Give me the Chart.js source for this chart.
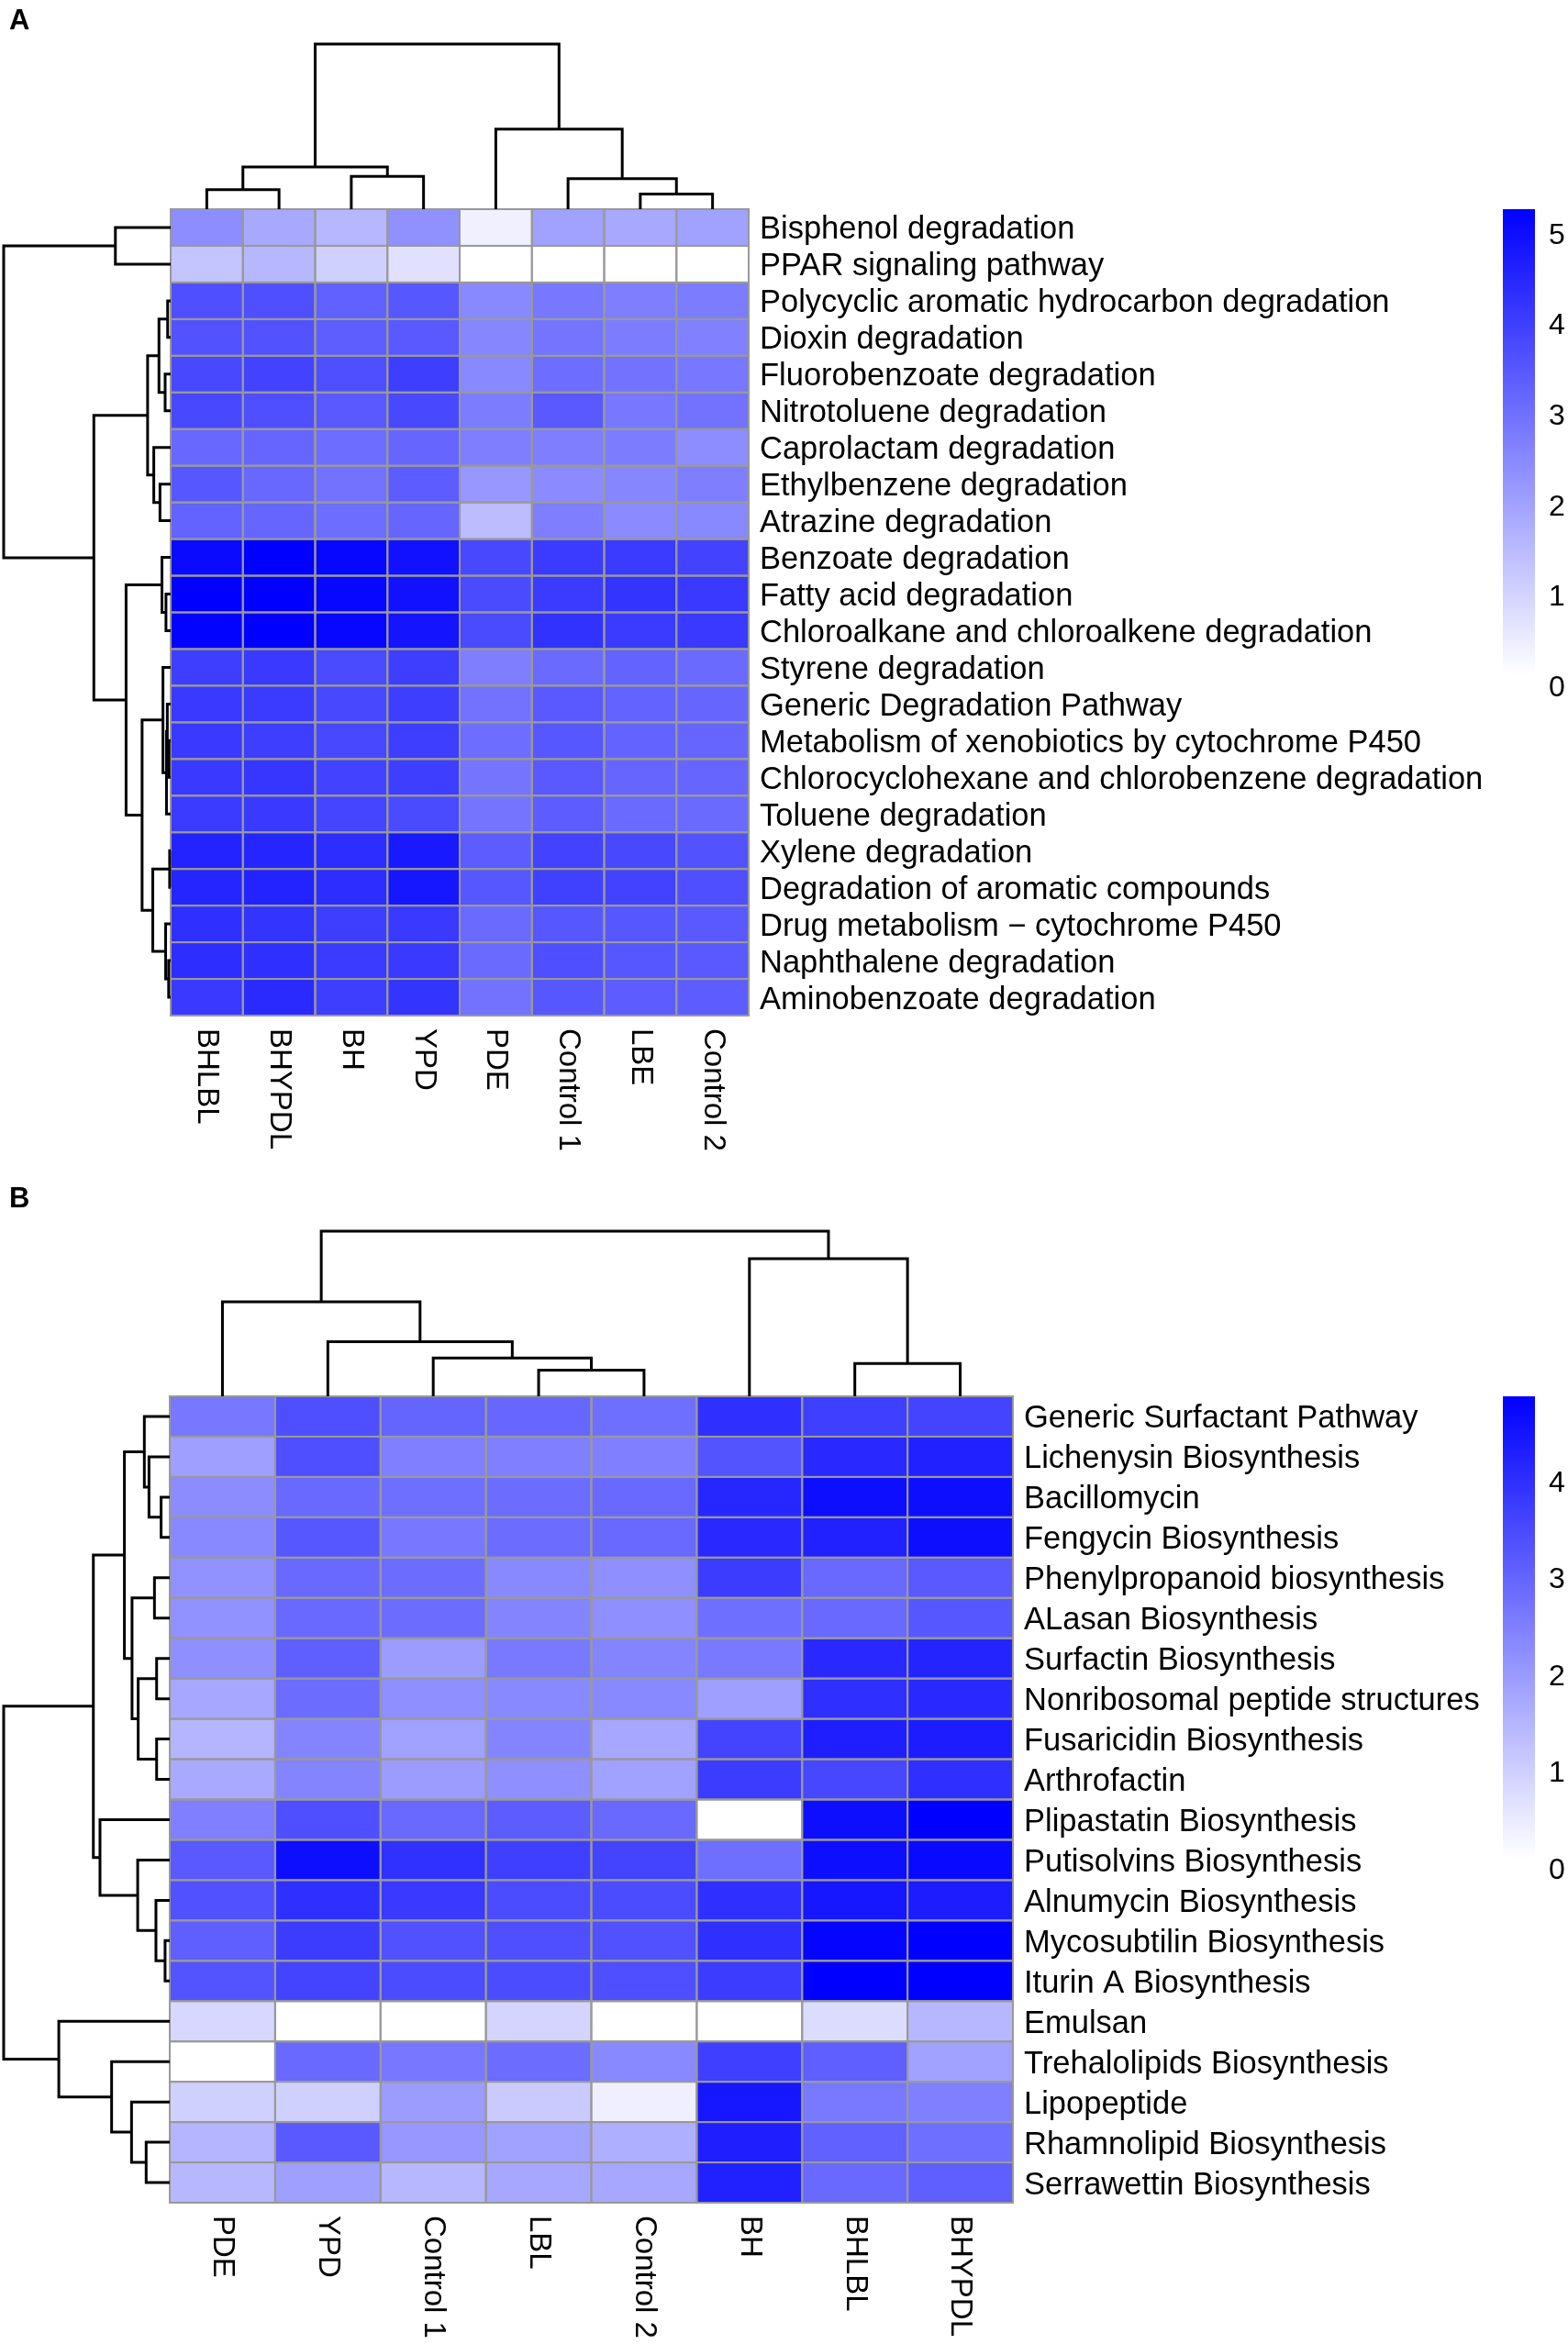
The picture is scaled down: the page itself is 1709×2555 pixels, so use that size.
<!DOCTYPE html>
<html><head><meta charset="utf-8">
<script src="https://cdn.jsdelivr.net/npm/chart.js"></script>
<style>body{margin:0;background:#fff}canvas{display:block}</style>
</head><body>
<canvas id="chartA" width="1709" height="1280"></canvas>
<canvas id="chartB" width="1709" height="1275"></canvas>
<script>
/* ================= DATA : panel A ================= */
const colsA = ['BHLBL','BHYPDL','BH','YPD','PDE','Control 1','LBE','Control 2'];
const rowsA = ['Bisphenol degradation','PPAR signaling pathway','Polycyclic aromatic hydrocarbon degradation','Dioxin degradation',
  'Fluorobenzoate degradation','Nitrotoluene degradation','Caprolactam degradation','Ethylbenzene degradation','Atrazine degradation',
  'Benzoate degradation','Fatty acid degradation','Chloroalkane and chloroalkene degradation','Styrene degradation',
  'Generic Degradation Pathway','Metabolism of xenobiotics by cytochrome P450','Chlorocyclohexane and chlorobenzene degradation',
  'Toluene degradation','Xylene degradation','Degradation of aromatic compounds','Drug metabolism \u2212 cytochrome P450',
  'Naphthalene degradation','Aminobenzoate degradation'];
const valsA = [
  [2.3,1.75,1.45,2.25,0.3,1.9,1.75,1.9],
  [1.2,1.45,0.95,0.6,0,0,0,0],
  [3.55,3.55,3.2,3.4,2.4,2.75,2.6,2.65],
  [3.5,3.5,3.25,3.35,2.45,2.8,2.65,2.55],
  [3.7,3.8,3.55,3.9,2.4,2.95,2.85,2.75],
  [3.7,3.55,3.35,3.7,2.65,3.35,2.75,2.85],
  [3.05,3.1,2.95,3.1,2.6,2.6,2.65,2.3],
  [3.4,3.05,2.85,3.3,2.1,2.35,2.45,2.6],
  [3.15,3.1,2.95,3.1,1.35,2.6,2.35,2.4],
  [4.95,5.15,5.0,4.8,3.7,3.95,3.95,3.8],
  [5.15,5.18,5.0,4.8,3.65,3.95,4.1,4.0],
  [5.1,5.18,5.0,4.75,3.65,4.15,3.95,4.0],
  [3.9,4.0,3.65,3.9,2.6,3.0,3.15,3.0],
  [4.0,3.95,3.7,3.9,2.85,3.35,3.15,3.1],
  [4.0,3.9,3.7,3.9,2.95,3.4,3.15,3.1],
  [4.0,4.05,3.8,3.9,2.8,3.35,3.1,3.1],
  [3.95,4.0,3.75,3.65,2.8,3.3,3.0,3.0],
  [4.45,4.4,4.25,4.65,3.3,3.8,3.7,3.5],
  [4.4,4.45,4.25,4.7,3.4,3.85,3.8,3.55],
  [4.2,4.1,3.9,4.0,3.0,3.4,3.4,3.35],
  [4.25,4.2,3.95,4.0,3.0,3.55,3.4,3.35],
  [4.0,4.3,3.9,4.1,2.85,3.4,3.3,3.3]
];
// merges: [left, right, height]; id < n is a leaf, id >= n is merge (id-n); height relative to root
const rowTreeA = [[0,1,0.331],[2,3,0.018],[4,5,0.033],[23,24,0.07],[7,8,0.064],[6,26,0.101],[25,27,0.138],
  [10,11,0.028],[9,29,0.052],[14,15,0.01],[13,31,0.02],[32,16,0.025],[12,33,0.046],[17,18,0.006],[20,21,0.012],
  [19,36,0.03],[35,37,0.107],[34,38,0.171],[30,39,0.267],[28,40,0.46],[22,41,1]];
const colTreeA = [[0,1,0.118],[2,3,0.199],[8,9,0.255],[6,7,0.092],[5,11,0.185],[4,12,0.485],[10,13,1]];
const legendTicksA = [0,1,2,3,4,5];
const maxA = 5.15;

/* ================= DATA : panel B ================= */
const colsB = ['PDE','YPD','Control 1','LBL','Control 2','BH','BHLBL','BHYPDL'];
const rowsB = ['Generic Surfactant Pathway','Lichenysin Biosynthesis','Bacillomycin','Fengycin Biosynthesis',
  'Phenylpropanoid biosynthesis','ALasan Biosynthesis','Surfactin Biosynthesis','Nonribosomal peptide structures',
  'Fusaricidin Biosynthesis','Arthrofactin','Plipastatin Biosynthesis','Putisolvins Biosynthesis','Alnumycin Biosynthesis',
  'Mycosubtilin Biosynthesis','Iturin A Biosynthesis','Emulsan','Trehalolipids Biosynthesis','Lipopeptide',
  'Rhamnolipid Biosynthesis','Serrawettin Biosynthesis'];
const valsB = [
  [2.55,3.3,2.9,2.85,2.7,3.9,3.6,3.5],
  [1.8,3.3,2.4,2.4,2.4,3.2,4.0,4.15],
  [2.15,2.8,2.7,2.75,2.8,4.05,4.5,4.5],
  [2.2,3.15,2.55,2.75,2.8,4.0,4.15,4.5],
  [2.05,2.8,2.75,2.2,2.1,3.65,2.8,3.1],
  [2.05,2.8,2.75,2.3,2.1,2.7,2.8,3.15],
  [2.1,3.0,1.85,2.5,2.3,2.5,4.0,4.1],
  [1.65,2.75,2.1,2.2,2.2,1.8,3.9,4.0],
  [1.4,2.3,1.75,2.3,1.65,3.5,4.2,4.25],
  [1.6,2.3,1.85,2.1,1.75,3.65,3.45,3.9],
  [2.4,3.3,2.8,3.05,2.8,0,4.5,4.77],
  [3.1,4.5,3.85,3.6,3.5,2.7,4.5,4.6],
  [3.25,3.9,3.7,3.35,3.35,3.9,4.35,4.25],
  [3.0,3.65,3.25,3.3,3.25,3.9,4.7,4.77],
  [3.2,3.5,3.35,3.35,3.3,3.65,4.77,4.77],
  [0.75,0,0,0.8,0,0,0.65,1.35],
  [0,2.8,2.55,2.75,2.2,3.6,3.0,1.75],
  [0.88,0.88,1.85,1.0,0.3,4.35,2.5,2.4],
  [1.4,3.1,1.95,1.75,1.5,4.2,2.95,2.7],
  [1.35,1.8,1.35,1.65,1.65,4.15,2.8,3.0]
];
const rowTreeB = [[2,3,0.052],[1,20,0.125],[0,21,0.153],[4,5,0.092],[6,7,0.079],[8,9,0.079],[24,25,0.19],
  [23,26,0.227],[22,27,0.273],[13,14,0.028],[12,29,0.083],[11,30,0.193],[10,31,0.42],[28,32,0.46],
  [18,19,0.142],[17,34,0.23],[16,35,0.35],[15,36,0.668],[33,37,1]];
const colTreeB = [[3,4,0.159],[2,8,0.232],[1,9,0.33],[0,10,0.572],[6,7,0.199],[5,12,0.834],[11,13,1]];
const legendTicksB = [0,1,2,3,4];
const maxB = 4.77;

/* ================= HELPERS ================= */
const FONT = '"Liberation Sans", Arial, sans-serif';
const colorFor = (v,max)=>{const k=Math.round(255*(1-Math.min(v/max,1)));return `rgb(${k},${k},255)`};

// dendrogram -> one polyline per merge, in (pos, height) pairs
function treeLines(merges, n){
  const pos=[], ht=[];
  for(let i=0;i<n;i++){pos[i]=i+0.5; ht[i]=0;}
  return merges.map(([a,b,h],i)=>{
    pos[n+i]=(pos[a]+pos[b])/2; ht[n+i]=h;
    return [[pos[a],ht[a]],[pos[a],h],[pos[b],h],[pos[b],ht[b]]];
  });
}

function heatmap(id, p){
  const nr=p.rows.length, nc=p.cols.length;
  const W=1709, H=document.getElementById(id).height;
  const cellW=(p.box.right-p.box.left)/nc, cellH=(p.box.bottom-p.box.top)/nr;
  const tx=p.treeW/cellW, ty=p.treeH/cellH;   // tree sizes in cell units

  const lineDs = pts=>({data:pts, showLine:true, borderColor:'#000', borderWidth:3, pointRadius:0, tension:0, clip:false});
  const datasets = [
    ...treeLines(p.rowTree,nr).map(l=>lineDs(l.map(([ps,h])=>({x:-h*tx, y:ps})))),
    ...treeLines(p.colTree,nc).map(l=>lineDs(l.map(([ps,h])=>({x:ps, y:-h*ty}))))
  ];

  const cells = {
    id:'cells',
    beforeDatasetsDraw(chart){
      const {ctx, scales:{x,y}}=chart;
      ctx.save();
      p.vals.forEach((row,r)=>row.forEach((v,c)=>{
        const x0=x.getPixelForValue(c), x1=x.getPixelForValue(c+1);
        const y0=y.getPixelForValue(r), y1=y.getPixelForValue(r+1);
        ctx.fillStyle=colorFor(v,p.max); ctx.fillRect(x0,y0,x1-x0,y1-y0);
      }));
      ctx.strokeStyle='#999999'; ctx.lineWidth=2;
      p.vals.forEach((row,r)=>row.forEach((v,c)=>{
        const x0=x.getPixelForValue(c), x1=x.getPixelForValue(c+1);
        const y0=y.getPixelForValue(r), y1=y.getPixelForValue(r+1);
        ctx.strokeRect(x0,y0,x1-x0,y1-y0);
      }));
      ctx.restore();
    },
    afterDraw(chart){
      const {ctx, scales:{x,y}}=chart;
      ctx.save();
      ctx.fillStyle='#000';
      // row labels
      ctx.font=`34.5px ${FONT}`; ctx.textAlign='left'; ctx.textBaseline='middle';
      const lx=x.getPixelForValue(nc)+12;
      p.rows.forEach((t,r)=>ctx.fillText(t, lx, y.getPixelForValue(r+0.5)+3));
      // column labels, rotated 90deg clockwise
      ctx.font=`33px ${FONT}`;
      const ly=y.getPixelForValue(nr)+14;
      p.cols.forEach((t,c)=>{
        ctx.save(); ctx.translate(x.getPixelForValue(c+0.5), ly); ctx.rotate(Math.PI/2);
        ctx.fillText(t,0,0); ctx.restore();
      });
      // colour key
      const bx=1638, bw=35, top=y.getPixelForValue(0), bh=p.barH, bot=top+bh;
      const g=ctx.createLinearGradient(0,bot,0,top);
      g.addColorStop(0,colorFor(0,p.max)); g.addColorStop(1,colorFor(p.max,p.max));
      ctx.fillStyle=g; ctx.fillRect(bx,top,bw,bh);
      ctx.fillStyle='#000'; ctx.font=`32px ${FONT}`;
      p.ticks.forEach(v=>ctx.fillText(String(v), bx+bw+15, bot-v/p.max*bh+14));
      // panel letter
      ctx.font=`bold 31px ${FONT}`; ctx.textBaseline='top';
      ctx.fillText(p.letter, 10, p.letterY);
      ctx.restore();
    }
  };

  return new Chart(document.getElementById(id), {
    type:'scatter',
    data:{datasets},
    options:{
      responsive:false, devicePixelRatio:1, animation:false, events:[],
      layout:{padding:{left:p.box.left-p.treeW, top:p.box.top-p.treeH, right:W-p.box.right, bottom:H-p.box.bottom}},
      scales:{
        x:{type:'linear', display:false, min:-tx, max:nc},
        y:{type:'linear', display:false, reverse:true, min:-ty, max:nr}
      },
      plugins:{legend:{display:false}, tooltip:{enabled:false}}
    },
    plugins:[cells]
  });
}

heatmap('chartA', {letter:'A', letterY:8, rows:rowsA, cols:colsA, vals:valsA, rowTree:rowTreeA, colTree:colTreeA,
  ticks:legendTicksA, max:maxA, box:{left:186, right:816, top:228, bottom:1107}, treeW:182, treeH:180, barH:508});
heatmap('chartB', {letter:'B', letterY:12, rows:rowsB, cols:colsB, vals:valsB, rowTree:rowTreeB, colTree:colTreeB,
  ticks:legendTicksB, max:maxB, box:{left:185, right:1104, top:242, bottom:1121}, treeW:181, treeH:180, barH:503});
</script>
</body></html>
